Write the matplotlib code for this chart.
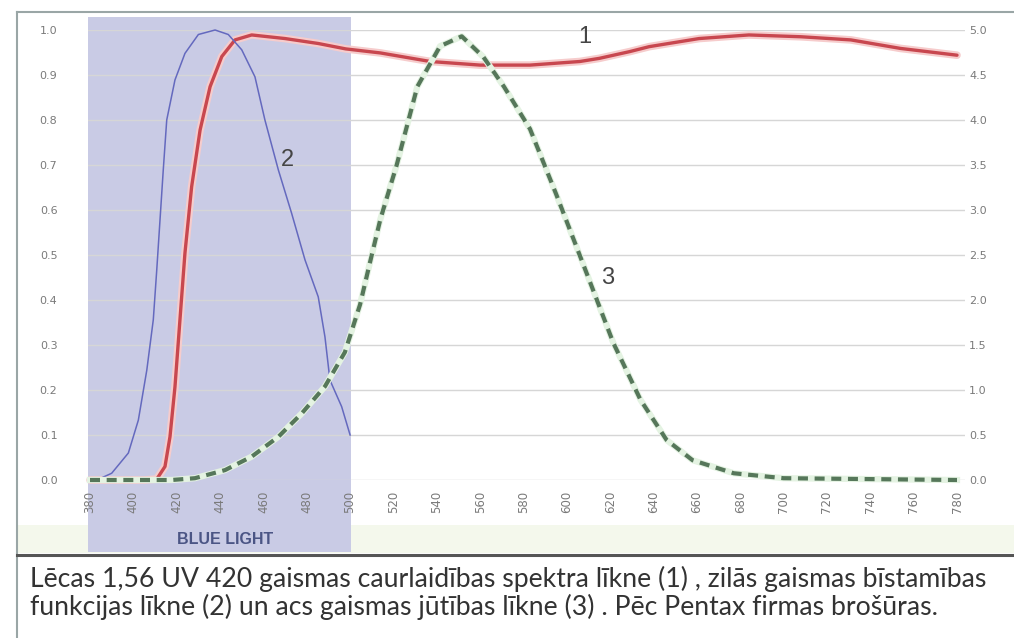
import numpy as np
import matplotlib
matplotlib.use("Agg")
import matplotlib.pyplot as plt
from matplotlib.patches import Rectangle
from matplotlib.lines import Line2D
from matplotlib.transforms import blended_transform_factory


# curve 1: lens transmission (left axis)
wl1 = [380, 405, 410.8, 414.6, 416.9, 419.2, 421.5, 423.8, 426.9, 430.8, 435.4, 440.8,
       446.9, 454.6, 470, 485.3, 498, 514, 537, 560, 583, 606, 615, 629, 638,
       661, 684, 708, 731, 754, 780]
t1 = [0.0, 0.0, 0.002, 0.03, 0.096, 0.207, 0.356, 0.504, 0.652, 0.778, 0.874, 0.941,
      0.978, 0.989, 0.981, 0.970, 0.958, 0.949, 0.93, 0.922, 0.922, 0.93, 0.937,
      0.952, 0.963, 0.981, 0.989, 0.985, 0.978, 0.959, 0.944]

# curve 2: blue light hazard (left axis)
wl2 = [380, 385, 390, 397.7, 402.3, 406.2, 409.2, 410.8, 412.3, 413.8, 415.4, 419.2,
       423.8, 430, 437.7, 443.8, 450, 456.1, 460.7, 466.9, 473, 479.2, 485.3, 488.4,
       490.7, 496.1, 500]
h2 = [0.0, 0.004, 0.015, 0.06, 0.133, 0.244, 0.356, 0.467, 0.578, 0.689, 0.80, 0.889,
      0.948, 0.99, 1.0, 0.99, 0.956, 0.896, 0.80, 0.689, 0.593, 0.489, 0.407, 0.318,
      0.222, 0.163, 0.10]

# curve 3: eye sensitivity (right axis)
wl3 = [380, 417.7, 428.4, 442.3, 454.6, 466.9, 477.7, 488.4, 497.6, 504.6, 509, 514,
       521.5, 531, 541.5, 551.5, 561.5, 571, 583, 595, 607.5, 621.5, 634, 646, 658, 677,
       700, 780]
s3 = [0.0, 0.0, 0.02, 0.11, 0.26, 0.48, 0.74, 1.04, 1.42, 1.95, 2.4, 2.9, 3.5, 4.37,
      4.82, 4.93, 4.7, 4.37, 3.9, 3.18, 2.4, 1.52, 0.89, 0.445, 0.22, 0.075, 0.02, 0.0]

xticks = list(range(380, 781, 20))
left_ticks = [round(0.1 * i, 1) for i in range(11)]
right_ticks = [0.5 * i for i in range(11)]

caption = ("Lēcas 1,56 UV 420 gaismas caurlaidības spektra līkne (1) , zilās gaismas bīstamības\n"
           "funkcijas līkne (2) un acs gaismas jūtības līkne (3) . Pēc Pentax firmas brošūras.")

W, H = 1014, 638
fig = plt.figure(figsize=(W / 100, H / 100), dpi=100)
fig.patch.set_facecolor("white")

def px(x0, y0, x1, y1):
    # pixel box (from top-left) -> figure rect
    return [x0 / W, 1 - y1 / H, (x1 - x0) / W, (y1 - y0) / H]

# light greenish strip under the tick labels
fig.add_artist(Rectangle((18 / W, 1 - 553 / H), (W - 18) / W, 28 / H,
                         transform=fig.transFigure, facecolor="#f4f8ec",
                         edgecolor="none", zorder=-2))

ax = fig.add_axes(px(88, 30, 965, 480))
ax.set_facecolor("none")
nm_per_px = 400 / 867
ax.set_xlim(380 - 2 * nm_per_px, 780 + 8 * nm_per_px)
ax.set_ylim(0, 1)

# blue light band
trans = blended_transform_factory(ax.transData, ax.transAxes)
ax.add_patch(Rectangle((379.2, -0.16), 121.3, 1.19, transform=trans,
                       facecolor="#c9cbe5", edgecolor="none", clip_on=False, zorder=0))

for v in left_ticks:
    ax.axhline(v, color="#d6d6d6", lw=1.0, zorder=1)

for s in ax.spines.values():
    s.set_visible(False)

ax.set_xticks(xticks)
ax.set_xticklabels([str(x) for x in xticks], rotation=90, fontsize=8.5, color="#7a7a7a")
ax.set_yticks(left_ticks)
ax.set_yticklabels([f"{v:.1f}" for v in left_ticks], fontsize=8, color="#7a7a7a")
ax.tick_params(axis="x", length=0, pad=8)
ax.tick_params(axis="y", length=0, pad=22)

ax2 = ax.twinx()
ax2.set_ylim(0, 5)
ax2.set_yticks(right_ticks)
ax2.set_yticklabels([f"{v:.1f}" for v in right_ticks], fontsize=8, color="#7a7a7a")
ax2.tick_params(axis="y", length=0, pad=3)
for s in ax2.spines.values():
    s.set_visible(False)

# curve 3 (green dashed) with soft halo
ax2.plot(wl3, s3, color="#e4f3e2", lw=4.5, zorder=2, clip_on=False)
ax2.plot(wl3, s3, color="#56775a", lw=3.0, ls=(0, (2.4, 1.6)), zorder=3, clip_on=False)

# curve 1 (red) with pink halo
ax.plot(wl1, t1, color="#f6cccc", lw=5.5, zorder=4, clip_on=False, solid_capstyle="round")
ax.plot(wl1, t1, color="#c8474f", lw=2.4, zorder=5, clip_on=False, solid_capstyle="round")

# curve 2 (thin blue)
ax.plot(wl2, h2, color="#6469be", lw=1.1, zorder=6, clip_on=False)

ax.set_zorder(2)
ax2.set_zorder(3)
ax2.patch.set_visible(False)

for lbl, x, y in [("1", 608.4, 0.984), ("2", 471.3, 0.711), ("3", 619, 0.449)]:
    ax.text(x, y, lbl, fontsize=17, color="#454545", ha="center", va="center",
            family=["Liberation Sans", "DejaVu Sans"], zorder=7)

ax.text(442.3, -0.133, "BLUE LIGHT", fontsize=11.5, fontweight="bold", color="#4b5585",
        ha="center", va="center", family=["Liberation Sans", "DejaVu Sans"])

# frame lines
fig.add_artist(Line2D([17 / W, 17 / W], [0, 1 - 12 / H], transform=fig.transFigure,
                      color="#9aa6a6", lw=1.5))
fig.add_artist(Line2D([17 / W, 1], [1 - 12 / H, 1 - 12 / H], transform=fig.transFigure,
                      color="#9aa6a6", lw=1.5))
fig.add_artist(Line2D([17 / W, 1], [1 - 555 / H, 1 - 555 / H], transform=fig.transFigure,
                      color="#555555", lw=2.2))

fig.text(30 / W, 1 - 593 / H, caption, fontsize=19.2, color="#333333", ha="left",
         va="center", linespacing=1.05,
         family=["Lato", "DejaVu Sans"])

fig.savefig("out.png", dpi=100)
